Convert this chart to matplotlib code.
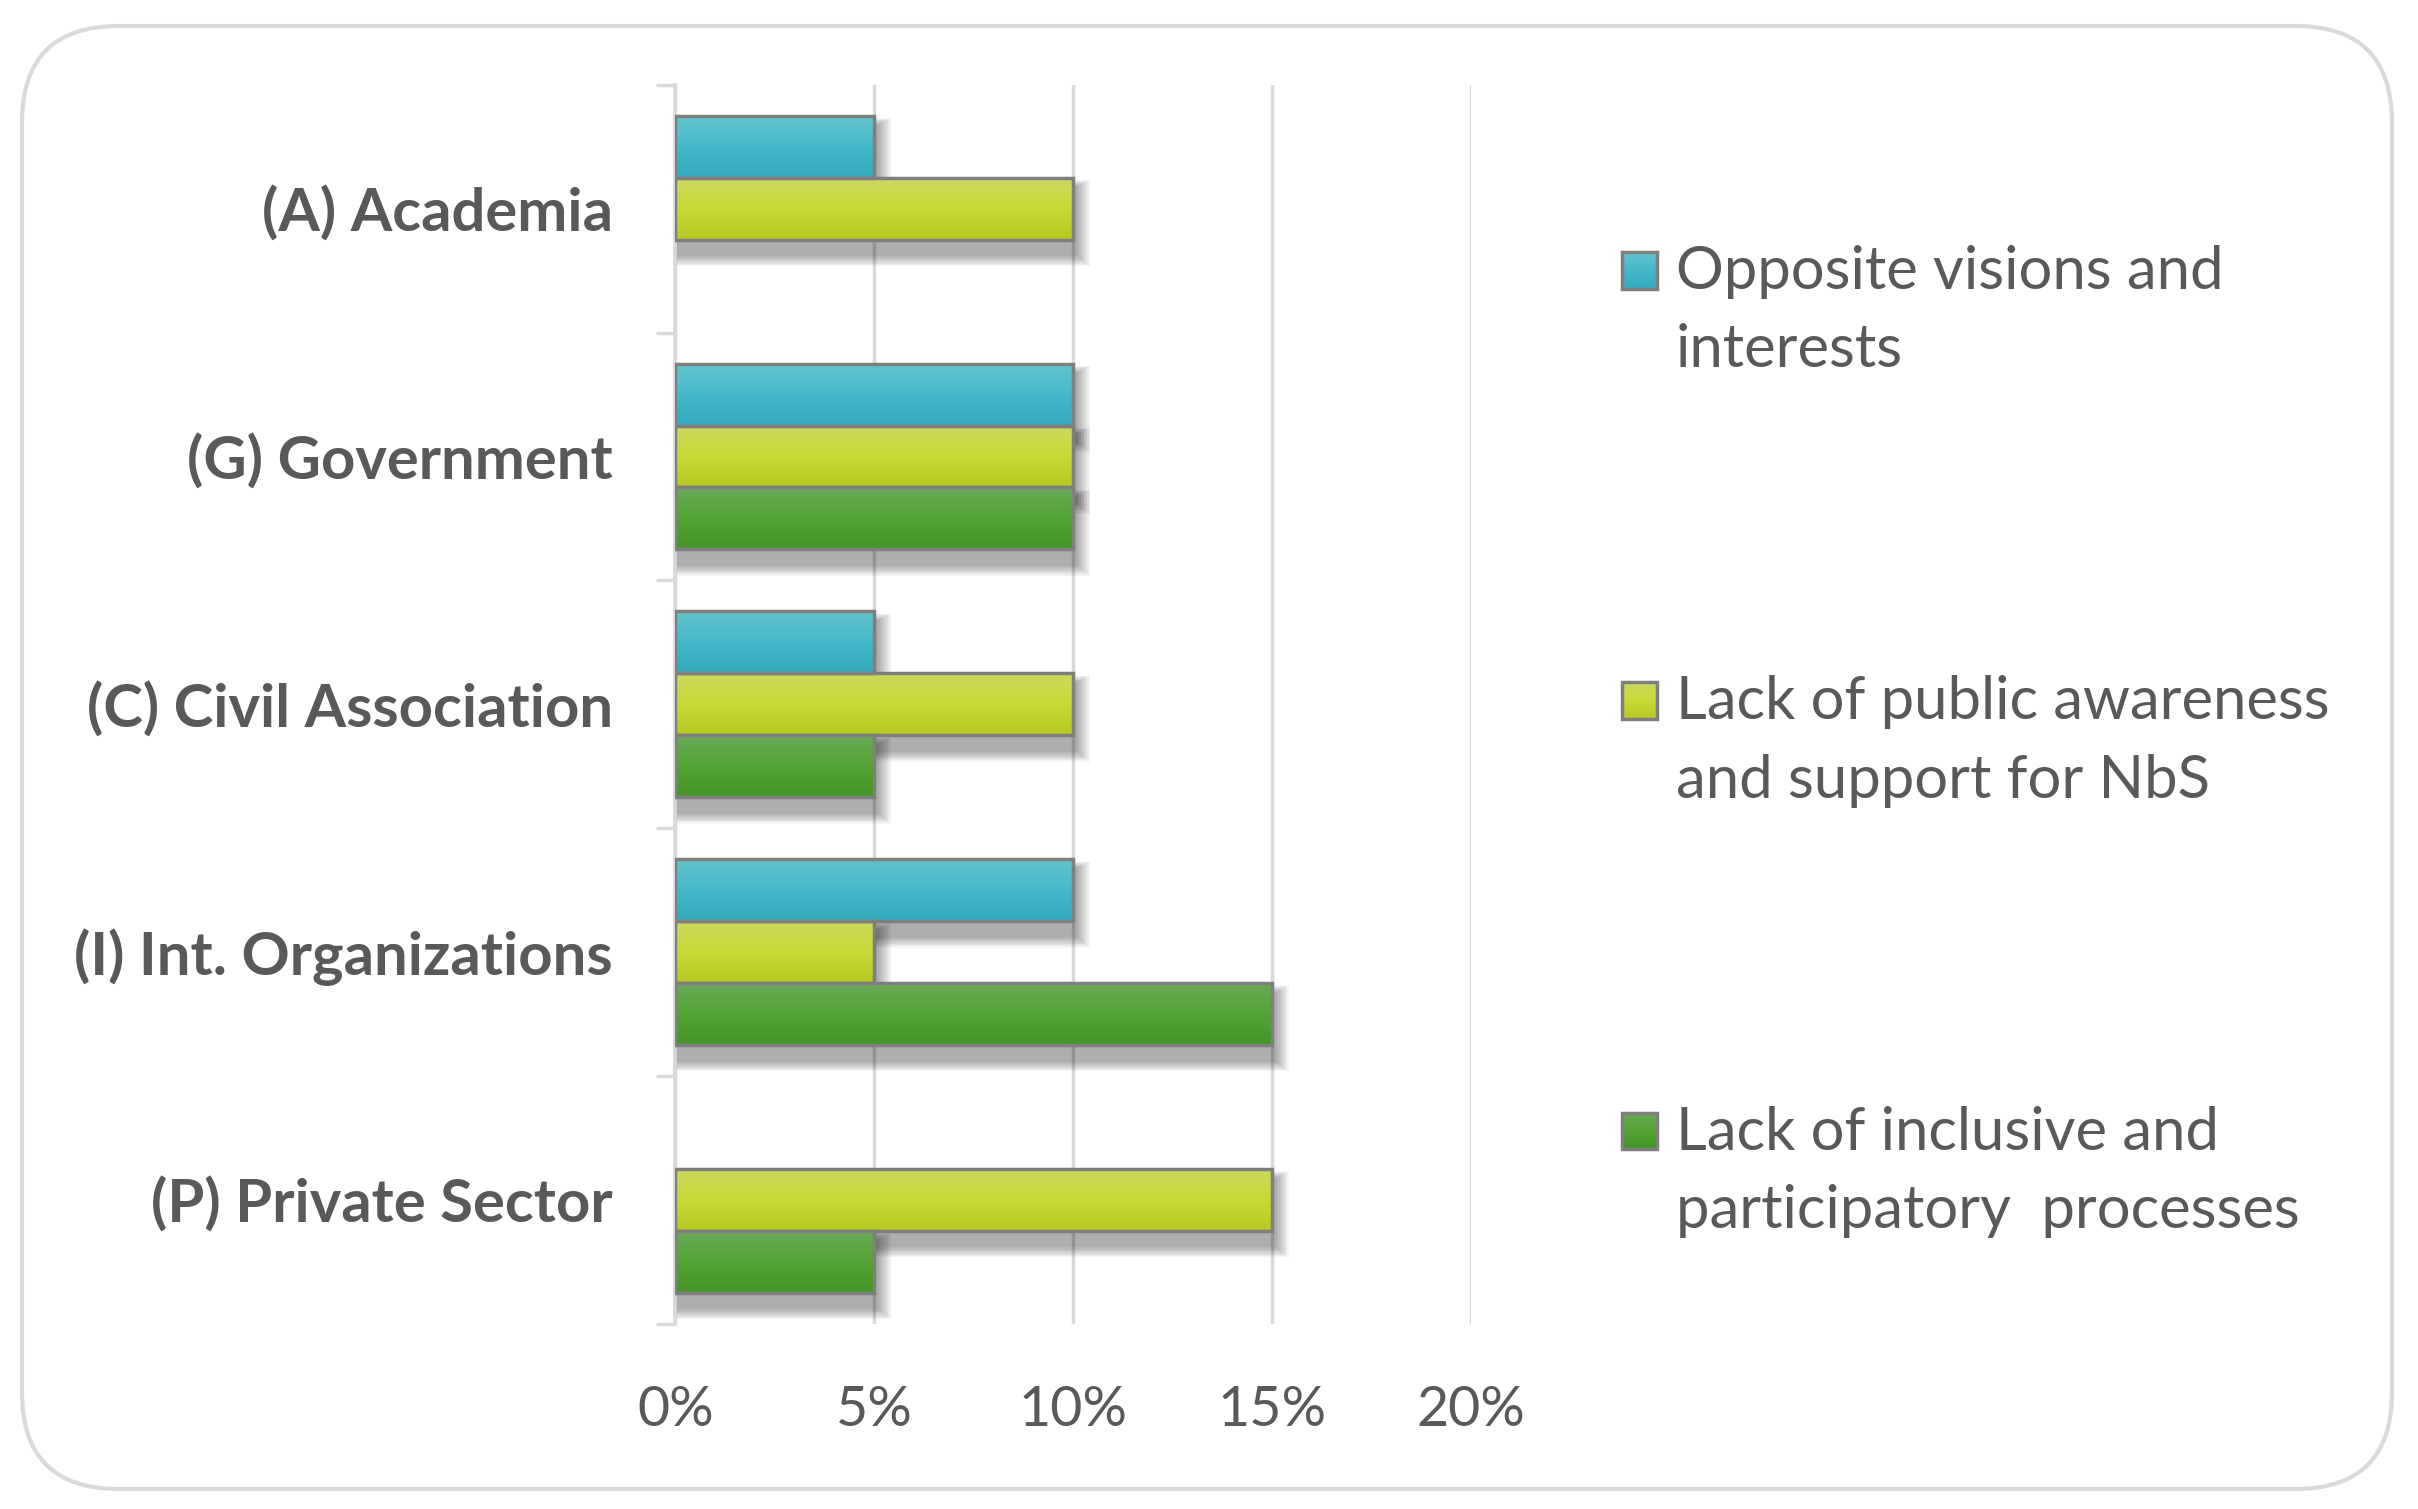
import numpy as np
import matplotlib
matplotlib.use("Agg")
import matplotlib.pyplot as plt
from matplotlib.patches import Rectangle, FancyBboxPatch
from matplotlib.colors import LinearSegmentedColormap

# data (percent)
categories = ["(A) Academia", "(G) Government", "(C) Civil Association",
              "(I) Int. Organizations", "(P) Private Sector"]
series_names = ["Opposite visions and\ninterests",
                "Lack of public awareness\nand support for NbS",
                "Lack of inclusive and\nparticipatory  processes"]
opposite = [5, 10, 5, 10, 0]
awareness = [10, 10, 10, 5, 15]
inclusive = [0, 10, 5, 15, 5]
xticks = [0, 5, 10, 15, 20]
xtick_labels = ["0%", "5%", "10%", "15%", "20%"]

# gradient top -> bottom for each series
grads = [["#62c2d0", "#45b9c9", "#33a9bb"],
         ["#ccd95e", "#c8d836", "#b7c822"],
         ["#69ab57", "#55a335", "#459527"]]
TXT = "#595959"
GRID = "#d9d9d9"
EDGE = "#7f7f7f"

plt.rcParams['font.family'] = ['Lato', 'DejaVu Sans']

fig = plt.figure(figsize=(24.18, 15.09), dpi=100)
fig.patch.set_facecolor("white")

# rounded chart border
border = FancyBboxPatch((22 / 2418, 20 / 1509), (2392 - 22) / 2418, (1483 - 20) / 1509,
                        boxstyle="round,pad=0,rounding_size=0.04",
                        transform=fig.transFigure, facecolor="none",
                        edgecolor=GRID, linewidth=3, mutation_aspect=2418 / 1509,
                        zorder=-10)
fig.patches.append(border)

ax = fig.add_axes([0.2793, 0.1227, 0.329, 0.8211])
ax.set_facecolor("none")

y = np.arange(len(categories))
h = 0.25
allvals = [opposite, awareness, inclusive]
offsets = [-h, 0, h]

px_x = 5 / 129.0      # data units per displayed pixel in x
px_y = 1 / 160.6      # data units per displayed pixel in y

for s, vals in enumerate(allvals):
    bars = ax.barh(y + offsets[s], vals, height=h, facecolor="none",
                   edgecolor=EDGE, linewidth=2.5, zorder=4)
    cmap = LinearSegmentedColormap.from_list("g%d" % s, grads[s])
    grad = np.linspace(0, 1, 64).reshape(-1, 1)
    for b in bars:
        bx, by = b.get_x(), b.get_y()
        bw, bh = b.get_width(), b.get_height()
        if bw <= 0:
            b.set_linewidth(0)
            continue
        # soft shadow
        for k in range(1, 10):
            ax.add_patch(Rectangle((bx, by + 6 * px_y - k * px_y * 0.5),
                                   bw + (2 + k) * px_x, bh + (3 + k) * px_y * 1.3,
                                   facecolor="black", alpha=0.04, linewidth=0, zorder=1.5))
        im = ax.imshow(grad, cmap=cmap, extent=(bx, bx + bw, by + bh, by),
                       aspect="auto", interpolation="bicubic", zorder=3)
        im.set_clip_path(b)

ax.set_xlim(0, 20)
ax.set_ylim(len(categories) - 0.5, -0.5)

ax.set_xticks(xticks)
ax.set_xticklabels(xtick_labels)
ax.tick_params(axis="x", length=0, pad=44, labelsize=40, labelcolor=TXT)
ax.xaxis.grid(True, color=GRID, linewidth=2.5, zorder=0)
ax.set_axisbelow(True)

ax.set_yticks(np.arange(len(categories) + 1) - 0.5)
ax.set_yticklabels([])
ax.set_yticks(y, minor=True)
ax.set_yticklabels(categories, minor=True, fontweight="bold")
ax.tick_params(axis="y", which="major", length=14, width=2.5, color=GRID)
ax.tick_params(axis="y", which="minor", length=0, pad=45, labelsize=43, labelcolor=TXT)

for sp in ["top", "right", "bottom"]:
    ax.spines[sp].set_visible(False)
ax.spines["left"].set_color(GRID)
ax.spines["left"].set_linewidth(2.75)

# legend
base_y = [0.7567, 0.4714, 0.1861]   # baseline of second line
mark_y = [0.821, 0.5357, 0.2505]
grad = np.linspace(0, 1, 64).reshape(-1, 1)
for s in range(3):
    mw, mh = 0.0141, 0.0245
    mx, my = 0.671, mark_y[s] - mh / 2
    cmap = LinearSegmentedColormap.from_list("l%d" % s, grads[s])
    lax = fig.add_axes([mx, my, mw, mh])
    lax.imshow(grad, cmap=cmap, aspect="auto", interpolation="bicubic")
    lax.axis("off")
    r = Rectangle((mx, my), mw, mh, transform=fig.transFigure,
                  facecolor="none", edgecolor=EDGE, linewidth=2.5, zorder=5)
    fig.add_artist(r)
    fig.text(0.693, base_y[s], series_names[s], fontsize=43, color=TXT,
             va="baseline", ha="left", linespacing=1.55)

fig.savefig("out.png", dpi=100)
